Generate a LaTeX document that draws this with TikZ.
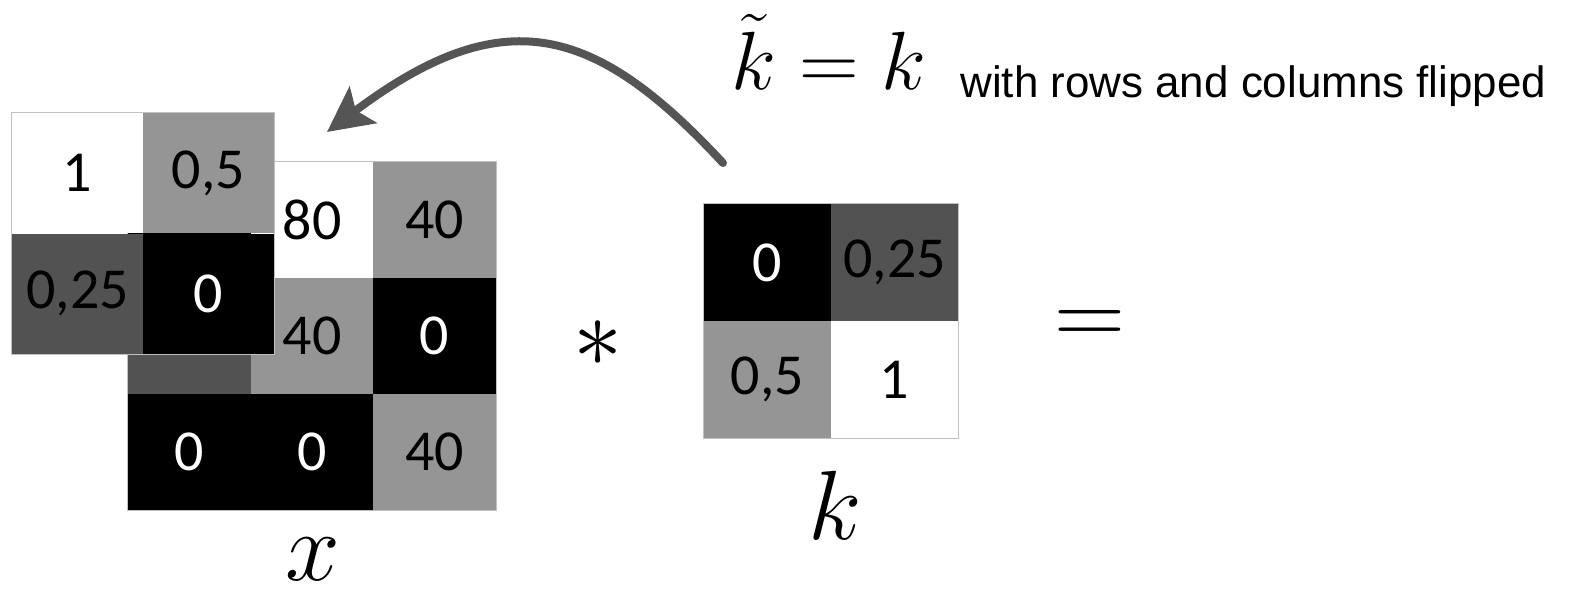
\documentclass[tikz,border=0pt]{standalone}
\usepackage{fix-cm}
\usepackage{fontspec}
\newfontfamily\cellfont{Carlito}
\newfontfamily\notefont{Liberation Sans}
\usetikzlibrary{arrows.meta}
\definecolor{cellgray}{HTML}{959595}
\definecolor{celldark}{HTML}{525252}
\definecolor{cellline}{HTML}{C0C0C0}
\definecolor{arrowgray}{HTML}{555555}

\begin{document}
\begin{tikzpicture}[x=0.02cm, y=-0.02cm,
    cell/.style={inner sep=0pt, font=\cellfont\fontsize{33}{33}\selectfont},
    xcell/.style={cell, minimum width=2.453cm, minimum height=2.32cm},
    fcell/.style={cell, minimum width=2.62cm, minimum height=2.41cm},
    kcell/.style={cell, minimum width=2.54cm, minimum height=2.34cm},
    gridline/.style={draw=cellline, line width=0.8pt},
    mathbig/.style={inner sep=0pt, font=\fontsize{56}{56}\selectfont},
    fliparrow/.style={arrowgray, line width=0.16cm, line cap=round,
        -{Stealth[length=0.9cm, width=0.9cm, inset=0.18cm]}}]
    \useasboundingbox (0,0) rectangle (1569,590);

    % input x (the cells under the flipped kernel keep no label)
    \foreach \r/\c/\col/\txt/\val in {1/1/black/white/{}, 1/2/white/black/80,
        1/3/cellgray/black/40, 2/1/celldark/black/{}, 2/2/cellgray/black/40,
        2/3/black/white/0, 3/1/black/white/0, 3/2/black/white/0, 3/3/cellgray/black/40}
        \node[xcell, fill=\col, text=\txt] (x\r\c) at ({128+122.67*(\c-0.5)}, {162+116*(\r-0.5)}) {\val};
    \draw[gridline] (x11.north west) rectangle (x33.south east);

    % flipped kernel on top of x
    \foreach \r/\c/\col/\txt/\val in {1/1/white/black/1, 1/2/cellgray/black/{0,5},
        2/1/celldark/black/{0,25}, 2/2/black/white/0}
        \node[fcell, fill=\col, text=\txt] (f\r\c) at ({12+131*(\c-0.5)}, {113+120.5*(\r-0.5)}) {\val};
    \draw[gridline] (f11.north west) rectangle (f22.south east);

    % kernel k
    \foreach \r/\c/\col/\txt/\val in {1/1/black/white/0, 1/2/celldark/black/{0,25},
        2/1/cellgray/black/{0,5}, 2/2/white/black/1}
        \node[kcell, fill=\col, text=\txt] (k\r\c) at ({704+127*(\c-0.5)}, {204+117*(\r-0.5)}) {\val};
    \draw[gridline] (k11.north west) rectangle (k22.south east);

    \node[mathbig] (xlabel) at (313,559) {$x$};
    \node[mathbig] (klabel) at (835,505) {$k$};
    \node[mathbig] (conv) at (598,344) {$\ast$};
    \node[mathbig] (equals) at (1090,328) {$=$};

    \node[inner sep=0pt, anchor=base east, font=\fontsize{47}{47}\selectfont] (flipeq) at (927,90) {$\tilde{k} = k$};
    \node[inner sep=0pt, anchor=base west, font=\notefont\fontsize{25}{25}\selectfont] (flipnote) at (960,98) {with rows and columns flipped};

    \coordinate (arrS) at (723,163);
    \coordinate (arrE) at (327,132);
    \draw[fliparrow] (arrS) .. controls (594,24) and (503,0) .. (arrE);
\end{tikzpicture}
\end{document}
